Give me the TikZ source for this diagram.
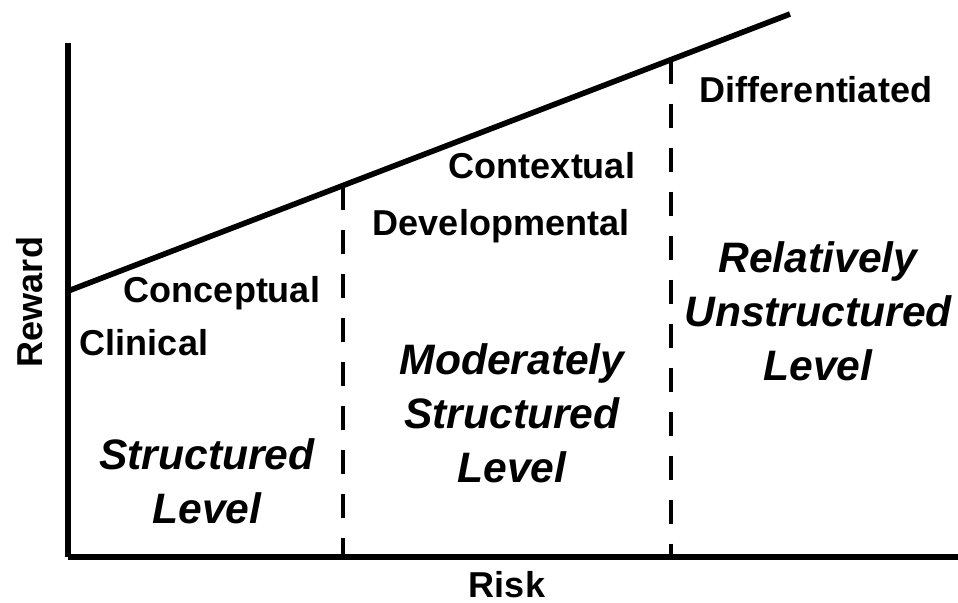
\documentclass[tikz,border=0pt]{standalone}
\usepackage{fontspec}
\setmainfont{Liberation Sans}
\usetikzlibrary{calc}

\begin{document}
\begin{tikzpicture}[x=0.5pt, y=-0.5pt,
  axis/.style = {line width=2.8pt},
  divider/.style = {line width=2pt, dash pattern=on 12pt off 10pt},
  tag/.style = {font=\bfseries\fontsize{18}{18}\selectfont, anchor=base, inner sep=0pt},
  level/.style = {font=\bfseries\itshape\fontsize{21.3}{27}\selectfont, align=center, anchor=base, inner sep=0pt}]
\useasboundingbox (0,0) rectangle (958,602);
% axes and reward line
\coordinate (top) at (68,43);
\coordinate (origin) at (68,557);
\coordinate (far) at (958,557);
\coordinate (low) at (68,291);
\coordinate (high) at (790,14);
\draw[axis] (top) -- (origin);
\draw[axis] (origin) -- (far);
\draw[axis] (low) -- (high);
% level borders
\coordinate (cut1) at ($(low)!0.3809!(high)$);
\coordinate (cut2) at ($(low)!0.8352!(high)$);
\draw[divider] (cut1) -- (cut1 |- origin);
\draw[divider] (cut2) -- (cut2 |- origin);
% axis names
\node[tag] (risk) at (507,597) {Risk};
\node[tag, rotate=90] (reward) at (42,302) {Reward};
% approaches
\node[tag] (diff) at (816,102) {Differentiated};
\node[tag] (context) at (542,178) {Contextual};
\node[tag] (develop) at (501,235) {Developmental};
\node[tag] (concept) at (222,302) {Conceptual};
\node[tag] (clinic) at (144,355) {Clinical};
% levels (base is the last line)
\node[level] (structured) at (207,523) {Structured\\Level};
\node[level] (moderate) at (512,482) {Moderately\\Structured\\Level};
\node[level] (unstructured) at (818,380) {Relatively\\Unstructured\\Level};
\end{tikzpicture}
\end{document}
